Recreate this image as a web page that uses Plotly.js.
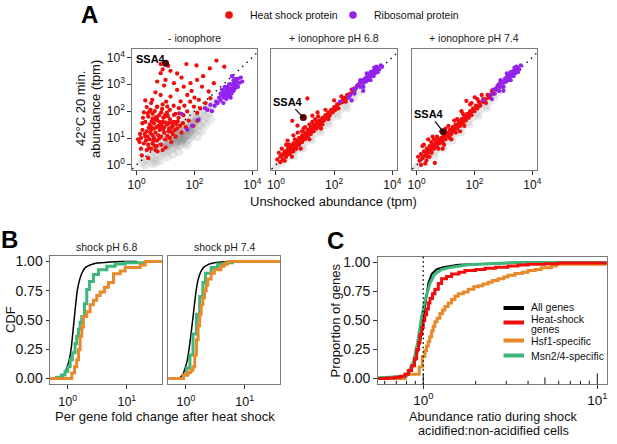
<!DOCTYPE html>
<html><head><meta charset="utf-8">
<script src="https://cdn.plot.ly/plotly-3.0.1.min.js"></script>
<style>html,body{margin:0;padding:0;background:#fff}#plot{width:617px;height:444px}</style>
</head><body><div id="plot"></div>
<script>
// ---------- DATA (panel A values are log10 tpm: [unshocked, shocked]) ----------
const a1GrayLight = [[0.2,0.1],[0.35,0.2],[0.5,0.3],[0.6,0.2],[0.7,0.4],[0.8,0.35],[0.9,0.5],[1.0,0.45],[0.95,0.65],[1.1,0.55],[1.2,0.6],[1.3,0.65],[1.4,0.7],[1.5,0.75],[1.6,0.8],[1.7,0.85],[1.8,0.95],[1.9,1.05],[2.0,1.2],[2.1,1.3],[2.2,1.45],[2.3,1.6],[2.4,1.8],[2.5,1.95],[2.6,2.1],[2.7,2.3],[2.2,1.9],[2.0,1.85],[1.9,1.75],[1.7,1.6],[1.5,1.45],[1.35,1.35],[1.2,1.3],[1.1,1.1],[0.9,0.9],[0.75,0.7],[0.6,0.55],[0.45,0.45],[2.35,2.1],[2.5,2.2],[1.3,1.5],[1.6,1.65],[2.05,2.0],[2.25,1.25],[2.4,1.5],[1.75,0.75],[1.45,0.5],[1.25,0.4],[0.3,0.0],[0.55,0.05],[0.8,0.15],[2.55,1.7],[1.0,1.0],[0.85,1.2],[1.15,0.75],[1.85,1.15],[2.15,1.55],[1.05,0.3],[0.65,0.1],[1.55,1.05],[1.95,1.55],[2.3,1.85],[0.95,0.8],[1.25,0.95],[1.65,1.3],[2.1,1.05],[1.4,0.95],[0.7,0.6],[1.8,1.25]];
const a1GrayCore = [[1.2,0.9],[1.3,1.0],[1.4,1.1],[1.5,1.0],[1.6,1.2],[1.7,1.3],[1.8,1.4],[1.35,0.8],[1.55,0.9],[1.65,1.05],[1.45,1.25],[1.9,1.5],[2.0,1.6],[1.25,1.15],[1.75,1.1],[1.1,0.8],[1.05,0.7],[1.85,1.25],[2.1,1.7],[1.95,1.35],[1.5,1.15],[1.6,0.95],[1.4,0.9]];
const a1Hsp = [[0.83,3.75],[1.09,3.68],[0.83,3.41],[1.17,3.5],[1.72,3.75],[2.07,3.7],[2.76,3.88],[2.53,3.59],[3.03,3.65],[0.71,3.10],[1.0,3.16],[1.29,3.04],[1.40,2.79],[1.63,2.91],[1.86,3.04],[2.09,3.16],[2.26,2.91],[2.49,2.73],[1.75,2.60],[1.52,2.36],[1.17,2.54],[0.83,2.60],[0.54,2.42],[2.15,2.42],[1.98,2.17],[2.38,2.30],[2.55,2.48],[1.46,2.11],[1.06,2.17],[0.71,2.17],[0.48,2.05],[1.75,1.99],[2.09,1.93],[1.29,1.86],[2.67,3.04],[0.25,1.95],[0.4,1.8],[0.55,1.9],[0.7,1.75],[0.85,1.95],[1.0,1.8],[1.15,1.7],[1.3,1.6],[1.45,1.75],[1.6,1.55],[1.8,1.65],[0.3,1.6],[0.45,1.5],[0.6,1.55],[0.75,1.45],[0.9,1.6],[1.05,1.5],[1.2,1.4],[1.4,1.35],[0.2,1.3],[0.35,1.25],[0.5,1.3],[0.65,1.2],[0.8,1.3],[0.95,1.2],[1.1,1.25],[1.25,1.15],[1.55,1.2],[0.15,1.0],[0.3,1.05],[0.45,0.95],[0.6,1.0],[0.7,0.9],[0.85,1.05],[1.0,0.95],[1.15,1.0],[0.25,0.8],[0.4,0.75],[0.55,0.8],[0.7,0.7],[0.85,0.75],[1.0,0.65],[0.5,0.6],[0.65,0.55],[0.35,0.55],[0.1,0.85],[0.05,0.95],[0.18,0.35],[0.4,0.25],[0.55,1.1],[0.75,1.1],[0.95,1.4],[1.1,1.55],[0.6,1.35],[0.8,1.6],[1.25,1.45],[1.35,1.9],[0.5,2.3],[0.35,2.15],[0.9,2.25],[1.15,2.05],[0.62,2.0],[0.78,1.85],[1.05,1.95],[1.5,1.45],[1.7,1.4],[1.35,1.05],[1.2,0.85],[0.9,0.55],[0.2,1.55],[0.3,2.4],[0.65,2.7],[0.95,2.95],[0.45,2.0],[0.72,1.65],[0.92,1.75],[1.12,1.35],[0.68,1.4],[0.38,1.05],[0.58,0.9],[1.9,2.75],[2.3,3.3],[1.55,3.25],[2.0,2.5],[0.9,3.55],[1.4,3.4],[2.2,2.1],[1.65,2.2],[2.45,2.05],[1.95,1.45],[2.1,1.65],[1.85,2.35],[0.28,1.15],[0.42,1.38],[0.52,1.62],[0.66,1.78],[0.82,1.42],[0.98,1.58],[1.08,1.82],[1.22,1.58],[1.38,1.52],[1.48,1.92],[0.32,0.9],[0.48,1.18],[0.62,0.72],[0.78,0.98],[0.92,1.32],[1.06,1.08],[1.18,1.25],[1.32,1.3],[0.22,1.75],[0.38,1.92],[0.55,1.72],[0.7,2.15],[0.88,2.08],[1.02,2.35],[1.28,2.2],[0.15,0.6],[0.42,0.62],[0.72,0.5],[0.6,1.68],[0.98,1.85],[1.42,1.62],[1.62,1.85],[0.12,1.15],[0.5,1.42],[0.85,1.5]];
const a1Ribo = [[2.75,2.35],[2.85,2.5],[2.9,2.4],[2.95,2.6],[3.0,2.5],[3.0,2.7],[3.05,2.6],[3.1,2.8],[3.1,2.65],[3.15,2.55],[3.15,2.9],[3.2,2.75],[3.2,2.6],[3.25,2.85],[3.25,2.7],[3.3,3.0],[3.3,2.8],[3.35,2.9],[3.35,2.75],[3.4,3.05],[3.4,2.85],[3.45,3.1],[3.45,2.95],[3.5,3.2],[3.55,3.05],[3.6,3.25],[2.95,2.8],[3.05,2.9],[3.1,2.45],[3.2,3.0],[3.0,2.3],[2.9,2.65],[3.25,2.5],[3.35,3.15],[3.5,2.9],[3.15,2.7],[3.22,2.82],[3.28,2.65],[3.18,2.62],[3.08,2.72],[3.38,2.95],[3.42,3.2],[2.8,2.3],[3.65,3.1],[3.3,3.3],[1.55,1.9],[1.75,1.31],[1.92,1.46],[2.14,1.68],[2.36,2.11],[2.44,2.05],[2.55,2.23],[2.6,2.0],[2.7,2.2]];

const a2Gray = [[0.0,-0.05],[0.2,0.05],[0.3,0.2],[0.45,0.3],[0.6,0.45],[0.75,0.55],[0.9,0.7],[1.05,0.85],[1.2,1.0],[1.35,1.15],[1.5,1.3],[1.65,1.45],[1.8,1.6],[1.95,1.75],[2.1,1.9],[2.25,2.05],[2.4,2.2],[2.55,2.35],[2.7,2.5],[2.85,2.7],[1.1,1.1],[1.4,1.4],[1.7,1.7],[2.0,2.0],[2.3,2.3],[0.8,0.8],[0.5,0.5],[1.25,0.9],[1.55,1.2],[1.85,1.5],[2.15,1.8],[0.95,0.6],[0.65,0.3],[2.45,2.1],[2.6,2.6],[3.0,2.9]];
const a2Hsp = [[0.15,0.1],[0.2,0.35],[0.25,0.2],[0.3,0.5],[0.35,0.3],[0.4,0.55],[0.45,0.4],[0.5,0.7],[0.5,0.45],[0.55,0.6],[0.6,0.8],[0.6,0.5],[0.65,0.7],[0.7,0.9],[0.7,0.6],[0.75,0.8],[0.8,1.0],[0.8,0.75],[0.85,0.9],[0.9,1.1],[0.9,0.85],[0.95,1.0],[1.0,1.2],[1.0,0.95],[1.05,1.1],[1.1,1.3],[1.1,1.05],[1.15,1.2],[1.2,1.4],[1.2,1.15],[1.25,1.3],[1.3,1.5],[1.3,1.25],[1.35,1.4],[1.4,1.6],[1.4,1.35],[1.45,1.5],[1.5,1.65],[1.5,1.45],[1.55,1.6],[1.6,1.75],[1.65,1.65],[1.7,1.85],[1.75,1.75],[1.8,1.95],[1.85,1.85],[1.9,2.05],[1.95,1.95],[2.0,2.15],[2.05,2.05],[2.1,2.25],[2.2,2.3],[2.3,2.45],[2.35,2.4],[2.45,2.6],[2.55,2.65],[2.6,2.8],[2.7,2.85],[2.8,2.95],[2.9,3.05],[3.0,3.15],[0.3,0.15],[0.45,0.75],[0.55,0.3],[0.65,0.95],[0.85,0.6],[1.0,1.4],[1.15,0.95],[1.35,1.7],[1.6,1.5],[0.56,1.64],[0.74,1.46],[1.08,2.47],[1.25,1.83],[1.43,1.95],[0.4,0.9],[0.2,0.6],[0.35,0.75],[0.75,1.2],[0.95,1.35],[1.25,1.6],[1.7,2.05],[2.0,2.4],[2.25,2.55],[0.1,0.45],[0.05,0.2],[0.6,1.1],[0.9,1.25],[1.15,1.5],[1.45,1.8],[1.55,1.35],[1.8,1.7],[2.15,2.1],[2.4,2.35],[0.25,0.4],[0.38,0.45],[0.42,0.65],[0.52,0.55],[0.58,0.72],[0.68,0.8],[0.72,0.72],[0.78,0.9],[0.82,0.85],[0.88,0.95],[0.92,1.05],[0.98,1.08],[1.02,1.05],[1.08,1.2],[1.12,1.15],[1.18,1.28],[1.22,1.3],[1.28,1.38],[1.32,1.42],[1.38,1.5],[1.42,1.45],[1.48,1.58],[1.52,1.55],[1.58,1.68],[1.62,1.65],[1.68,1.75],[1.72,1.78],[1.78,1.85],[1.82,1.8],[1.88,1.95],[1.92,2.0],[1.98,2.05],[2.08,2.15],[2.18,2.28],[2.28,2.35],[2.38,2.5],[2.5,2.55],[2.65,2.7],[0.48,0.58],[0.62,0.62],[0.32,0.38],[0.15,0.3]];
const a2Ribo = [[2.55,2.6],[2.65,2.8],[2.75,2.85],[2.8,2.95],[2.85,3.0],[2.9,2.9],[2.95,3.1],[3.0,3.05],[3.05,3.2],[3.1,3.1],[3.1,3.25],[3.15,3.3],[3.2,3.2],[3.2,3.35],[3.25,3.3],[3.3,3.45],[3.3,3.35],[3.35,3.5],[3.4,3.4],[3.4,3.55],[3.45,3.5],[3.5,3.6],[3.55,3.55],[3.6,3.7],[3.65,3.65],[3.0,2.9],[3.15,3.15],[3.25,3.45],[3.35,3.3],[3.45,3.65],[2.7,2.65],[3.0,2.75],[2.9,3.15],[3.5,3.45],[3.25,3.15],[3.12,3.4],[3.38,3.62],[2.2,2.35],[2.5,2.5],[2.6,2.4]];

const a3Gray = [[0.0,-0.05],[0.2,0.05],[0.3,0.2],[0.45,0.3],[0.6,0.45],[0.75,0.55],[0.9,0.7],[1.05,0.85],[1.2,1.0],[1.35,1.15],[1.5,1.3],[1.65,1.45],[1.8,1.6],[1.95,1.75],[2.1,1.9],[2.25,2.05],[2.4,2.2],[2.55,2.35],[2.7,2.5],[2.85,2.7],[1.1,1.1],[1.4,1.4],[1.7,1.7],[2.0,2.0],[2.3,2.3],[0.8,0.8],[0.5,0.5],[1.25,0.9],[1.55,1.2],[1.85,1.5],[2.15,1.8],[0.95,0.6],[0.65,0.3],[2.45,2.1],[2.6,2.6],[3.0,2.9]];
const a3Hsp = [[0.1,0.15],[0.15,0.4],[0.2,0.25],[0.25,0.5],[0.3,0.35],[0.35,0.6],[0.4,0.45],[0.45,0.7],[0.5,0.5],[0.55,0.75],[0.6,0.6],[0.65,0.85],[0.7,0.7],[0.75,0.95],[0.8,0.8],[0.85,1.0],[0.9,0.85],[0.95,1.1],[1.0,0.95],[1.05,1.2],[1.1,1.05],[1.15,1.3],[1.2,1.15],[1.25,1.4],[1.3,1.25],[1.35,1.5],[1.4,1.35],[1.45,1.6],[1.5,1.45],[1.55,1.7],[1.6,1.55],[1.65,1.8],[1.7,1.65],[1.75,1.9],[1.8,1.75],[1.85,2.0],[1.9,1.85],[1.95,2.1],[2.0,2.0],[2.05,2.2],[2.1,2.1],[2.15,2.35],[2.2,2.2],[2.3,2.45],[2.35,2.35],[2.45,2.6],[2.5,2.5],[2.6,2.75],[2.7,2.8],[2.8,2.9],[2.9,3.05],[0.63,0.07],[0.34,0.16],[0.4,0.95],[0.55,1.05],[0.75,0.6],[0.95,0.75],[1.0,1.35],[1.2,0.95],[1.3,1.65],[1.5,1.25],[1.72,2.38],[2.01,2.51],[1.55,2.0],[1.85,2.25],[0.2,0.7],[0.3,0.05],[0.45,0.3],[0.6,0.95],[0.85,1.25],[1.1,1.45],[1.4,1.7],[1.65,1.45],[1.9,2.3],[2.25,2.6],[2.4,2.3],[0.15,0.0],[0.5,0.85],[0.7,1.05],[0.9,0.6],[1.15,1.0],[1.35,1.2],[1.6,1.9],[2.1,2.45],[0.05,0.3],[0.25,0.75],[0.22,0.3],[0.32,0.45],[0.42,0.55],[0.48,0.62],[0.58,0.7],[0.62,0.75],[0.68,0.82],[0.72,0.85],[0.78,0.9],[0.82,0.92],[0.88,0.98],[0.92,1.0],[0.98,1.08],[1.02,1.1],[1.08,1.15],[1.12,1.2],[1.18,1.25],[1.22,1.3],[1.28,1.35],[1.32,1.4],[1.38,1.45],[1.42,1.5],[1.48,1.55],[1.52,1.6],[1.58,1.65],[1.62,1.7],[1.68,1.75],[1.72,1.8],[1.78,1.85],[1.82,1.9],[1.88,1.95],[1.98,2.05],[2.08,2.15],[2.18,2.25],[2.28,2.35],[2.38,2.45],[2.55,2.6],[2.65,2.65],[0.52,0.45],[0.38,0.3]];
const a3Ribo = [[2.55,2.6],[2.65,2.8],[2.75,2.85],[2.8,2.95],[2.85,3.0],[2.9,2.9],[2.95,3.1],[3.0,3.05],[3.05,3.2],[3.1,3.1],[3.1,3.25],[3.15,3.3],[3.2,3.2],[3.2,3.35],[3.25,3.3],[3.3,3.45],[3.3,3.35],[3.35,3.5],[3.4,3.4],[3.4,3.55],[3.45,3.5],[3.5,3.6],[3.55,3.55],[3.6,3.7],[3.0,2.9],[3.15,3.15],[3.25,3.45],[3.35,3.3],[3.45,3.65],[2.7,2.65],[3.0,2.75],[2.9,3.15],[3.5,3.45],[3.25,3.15],[3.12,3.4],[3.38,3.62],[2.3,2.4],[2.6,2.45],[2.85,2.75]];

const ssa4 = [[1.0,3.78],[0.94,1.76],[0.92,1.23]];   // log10 [unshocked, shocked]
const identityLine = [0.5, 20000];

// Panel B (fold change, CDF)
const b1AllX = [0.6,0.69,0.79,0.9,0.96,1.05,1.14,1.22,1.30,1.38,1.46,1.6,1.73,2.0,2.39,3.0,3.77,5.5,8.2,15];
const b1AllY = [0,0,0.01,0.05,0.09,0.15,0.25,0.39,0.53,0.66,0.76,0.85,0.9,0.95,0.97,0.985,0.99,0.997,1.0,1.0];
const b1MsnX = [0.5,0.65,0.78,0.90,1.0,1.10,1.2,1.33,1.42,1.52,1.62,1.73,1.92,2.10,2.33,2.72,3.31,4.58,6.34,9.4,20.5];
const b1MsnY = [0,0.01,0.03,0.06,0.1,0.16,0.22,0.3,0.36,0.42,0.48,0.53,0.64,0.76,0.83,0.89,0.93,0.96,0.98,0.99,1.0];
const b1HsfX = [0.5,1.17,1.30,1.42,1.52,1.62,1.73,1.84,2.10,2.39,2.72,3.10,3.53,4.18,4.89,5.94,7.71,9.37,16.8,20.5,40];
const b1HsfY = [0,0.046,0.10,0.16,0.245,0.36,0.44,0.53,0.57,0.63,0.67,0.71,0.74,0.78,0.82,0.895,0.92,0.95,0.97,1.0,1.0];
const b2AllX = [0.6,0.72,0.8,0.9,0.97,1.05,1.13,1.22,1.31,1.4,1.5,1.62,1.78,2.0,2.3,2.8,3.5,5.5];
const b2AllY = [0,0,0.01,0.04,0.09,0.15,0.25,0.38,0.51,0.64,0.76,0.85,0.91,0.95,0.97,0.985,0.993,1.0];
const b2MsnX = [0.5,0.79,0.90,1.03,1.17,1.32,1.51,1.71,1.94,2.15,2.68,3.46,4.76,6.15];
const b2MsnY = [0,0,0.03,0.09,0.2,0.38,0.55,0.7,0.82,0.9,0.95,0.98,0.99,1.0];
const b2HsfX = [0.5,0.90,1.09,1.21,1.32,1.41,1.51,1.61,1.71,1.82,1.94,2.07,2.21,2.36,2.68,3.04,3.93,4.47,5.08,40];
const b2HsfY = [0,0.03,0.05,0.07,0.1,0.2,0.33,0.45,0.55,0.63,0.69,0.75,0.8,0.85,0.9,0.93,0.96,0.98,1.0,1.0];

// Panel C (abundance ratio, cumulative proportion)
const cAllX = [0.5,0.687,0.785,0.82,0.895,0.957,1.0,1.031,1.068,1.117,1.19,1.30,1.59,2.46,3.83,12];
const cAllY = [0,0.01,0.02,0.037,0.14,0.31,0.53,0.67,0.82,0.9,0.94,0.96,0.98,0.99,1.0,1.0];
const cHsX = [0.5,0.62,0.687,0.74,0.785,0.82,0.857,0.89,0.916,0.94,0.957,0.98,1.0,1.02,1.045,1.07,1.092,1.13,1.166,1.22,1.274,1.36,1.454,1.6,1.733,2.0,2.26,2.6,3.07,3.5,4.0,5.0,5.95,12];
const cHsY = [0,0.005,0.01,0.02,0.037,0.07,0.11,0.17,0.25,0.31,0.38,0.44,0.5,0.55,0.6,0.65,0.69,0.73,0.77,0.82,0.86,0.88,0.9,0.915,0.93,0.94,0.95,0.96,0.97,0.978,0.985,0.99,0.995,1.0];
const cHsfX = [0.5,0.785,0.948,0.987,1.022,1.045,1.068,1.09,1.117,1.14,1.166,1.2,1.246,1.29,1.331,1.39,1.454,1.52,1.586,1.7,1.81,1.95,2.07,2.2,2.36,2.5,2.69,2.9,3.07,3.36,3.7,4.0,4.4,4.77,5.45,5.82,12];
const cHsfY = [0,0.037,0.1,0.19,0.24,0.28,0.32,0.36,0.41,0.45,0.49,0.52,0.56,0.59,0.62,0.65,0.68,0.71,0.73,0.745,0.77,0.79,0.8,0.815,0.83,0.845,0.86,0.875,0.89,0.905,0.915,0.93,0.94,0.955,0.97,0.985,1.0];
const cMsnX = [0.5,0.8,0.877,0.928,0.978,1.022,1.092,1.166,1.274,1.454,1.81,2.47,3.36,12];
const cMsnY = [0,0.02,0.14,0.31,0.53,0.67,0.82,0.9,0.94,0.96,0.98,0.99,1.0,1.0];

const legendA = ['Heat shock protein','Ribosomal protein'];
const legendC = ['All genes','Heat-shock','genes','Hsf1-specific','Msn2/4-specific'];
const stripA = ['- ionophore','+ ionophore pH 6.8','+ ionophore pH 7.4'];
const stripB = ['shock pH 6.8','shock pH 7.4'];
const logTicksA_x = [1,100,10000], logTextA_x = ['10<sup>0</sup>','10<sup>2</sup>','10<sup>4</sup>'];
const logTicksA_y = [1,10,100,1000,10000], logTextA_y = ['10<sup>0</sup>','10<sup>1</sup>','10<sup>2</sup>','10<sup>3</sup>','10<sup>4</sup>'];
const decTicks = [1,10], decText = ['10<sup>0</sup>','10<sup>1</sup>'];
const cdfTicks = [0,0.25,0.5,0.75,1], cdfText = ['0.00','0.25','0.50','0.75','1.00'];
const logMinorC = [0.6,0.7,0.8,0.9,2,3,4,6,7,8,9], logMidC = [5], logMajorC = [1,10];

// ---------- STYLE ----------
const FONT = 'Liberation Sans, Arial, sans-serif';
const RED = '#F20D0D', PURPLE = '#9322EE', ORANGE = '#E8892B', GREEN = '#3DB77B';
const W = 617, H = 444;
const fx = p => p / W, fy = p => 1 - p / H;
const pw = v => Math.pow(10, v);
const xs = a => a.map(p => pw(p[0])), ys = a => a.map(p => pw(p[1]));

const traces = [];
const axA = ['', '2', '3'];
const grays = [a1GrayLight, a2Gray, a3Gray], hsps = [a1Hsp, a2Hsp, a3Hsp], ribos = [a1Ribo, a2Ribo, a3Ribo];
axA.forEach((s, i) => {
  const xa = 'x' + s, ya = 'y' + s;
  traces.push({type:'scatter', mode:'markers', x: xs(grays[i]), y: ys(grays[i]), xaxis: xa, yaxis: ya, showlegend:false,
    marker:{size: i === 0 ? 9 : 7, color:'#bdbdbd', opacity:0.35}, hoverinfo:'skip'});
  if (i === 0) traces.push({type:'scatter', mode:'markers', x: xs(a1GrayCore), y: ys(a1GrayCore), xaxis: xa, yaxis: ya, showlegend:false,
    marker:{size:9, color:'#8f8f8f', opacity:0.35}, hoverinfo:'skip'});
  traces.push({type:'scatter', mode:'lines', x: identityLine, y: identityLine, xaxis: xa, yaxis: ya, showlegend:false,
    line:{color:'#000', width:1.4, dash:'1.4px,4.6px'}, hoverinfo:'skip'});
  traces.push({type:'scatter', mode:'markers', x: xs(hsps[i]), y: ys(hsps[i]), xaxis: xa, yaxis: ya, showlegend:false,
    marker:{size:4.3, color:RED}});
  traces.push({type:'scatter', mode:'markers', x: xs(ribos[i]), y: ys(ribos[i]), xaxis: xa, yaxis: ya, showlegend:false,
    marker:{size:4.3, color:PURPLE}});
  traces.push({type:'scatter', mode:'markers', x: [pw(ssa4[i][0])], y: [pw(ssa4[i][1])], xaxis: xa, yaxis: ya, showlegend:false,
    marker:{size:7, color:'#5a0505'}});
});

// Panel B
const bSets = [[b1AllX,b1AllY,b1MsnX,b1MsnY,b1HsfX,b1HsfY,'x4','y4'],[b2AllX,b2AllY,b2MsnX,b2MsnY,b2HsfX,b2HsfY,'x5','y5']];
bSets.forEach(b => {
  traces.push({type:'scatter', mode:'lines', x:b[0], y:b[1], xaxis:b[6], yaxis:b[7], showlegend:false, line:{color:'#000', width:1.5, shape:'spline', smoothing:0.6}});
  traces.push({type:'scatter', mode:'lines', x:b[2], y:b[3], xaxis:b[6], yaxis:b[7], showlegend:false, line:{color:GREEN, width:3, shape:'hv'}});
  traces.push({type:'scatter', mode:'lines', x:b[4], y:b[5], xaxis:b[6], yaxis:b[7], showlegend:false, line:{color:ORANGE, width:3, shape:'hv'}});
});

// Panel C
traces.push({type:'scatter', mode:'lines', x:cHsfX, y:cHsfY, xaxis:'x6', yaxis:'y6', showlegend:false, line:{color:ORANGE, width:3, shape:'hv'}});
traces.push({type:'scatter', mode:'lines', x:cAllX, y:cAllY, xaxis:'x6', yaxis:'y6', showlegend:false, line:{color:'#000', width:2}});
traces.push({type:'scatter', mode:'lines', x:cMsnX, y:cMsnY, xaxis:'x6', yaxis:'y6', showlegend:false, line:{color:GREEN, width:3}});
traces.push({type:'scatter', mode:'lines', x:cHsX, y:cHsY, xaxis:'x6', yaxis:'y6', showlegend:false, line:{color:RED, width:3, shape:'hv'}});

// ---------- AXES ----------
const frame = {showline:true, mirror:true, linecolor:'#7a7a7a', linewidth:1, showgrid:false, zeroline:false,
  ticks:'outside', ticklen:3.5, tickwidth:1, tickcolor:'#333', tickfont:{family:FONT, size:12, color:'#111'}};
const layout = {
  width:W, height:H, margin:{l:0,r:0,t:0,b:0}, paper_bgcolor:'#fff', plot_bgcolor:'#fff',
  font:{family:FONT, color:'#111'}, showlegend:false,
  annotations:[], shapes:[]
};
const aXd = [[131.7,256.7],[271,396.7],[411.7,536.7]];
aXd.forEach((d, i) => {
  const s = i === 0 ? '' : String(i+1);
  layout['xaxis'+s] = Object.assign({}, frame, {type:'log', domain:[fx(d[0]), fx(d[1])], range:[-0.17,4.15], anchor:'y'+s,
    tickmode:'array', tickvals:logTicksA_x, ticktext:logTextA_x});
  layout['yaxis'+s] = Object.assign({}, frame, {type:'log', domain:[fy(170), fy(49.3)], range:[-0.19,4.3], anchor:'x'+s,
    tickmode:'array', tickvals:logTicksA_y, ticktext:logTextA_y, showticklabels: i === 0, ticks: i === 0 ? 'outside' : ''});
});
const bXd = [[50,162.3],[168.3,280]];
bXd.forEach((d, i) => {
  const s = String(i+4);
  layout['xaxis'+s] = Object.assign({}, frame, {type:'log', domain:[fx(d[0]), fx(d[1])], range:[-0.3,1.6], anchor:'y'+s,
    tickmode:'array', tickvals:decTicks, ticktext:decText, ticklabelstandoff:2, tickfont:{family:FONT, size:12.5, color:'#111'}});
  layout['yaxis'+s] = Object.assign({}, frame, {domain:[fy(384.3), fy(255.7)], range:[-0.05,1.05], anchor:'x'+s,
    tickmode:'array', tickvals:cdfTicks, ticktext:cdfText, showticklabels: i === 0, ticks: i === 0 ? 'outside' : '',
    tickfont:{family:FONT, size:14, color:'#111'}});
});
layout.xaxis6 = Object.assign({}, frame, {type:'log', domain:[fx(377.7), fx(606.7)], range:[-0.262,1.054], anchor:'y6',
  tickmode:'array', tickvals:decTicks, ticktext:decText, tickfont:{family:FONT, size:13.5, color:'#111'}});
layout.yaxis6 = Object.assign({}, frame, {domain:[fy(384.3), fy(256.7)], range:[-0.05,1.05], anchor:'x6',
  tickmode:'array', tickvals:cdfTicks, ticktext:cdfText, tickfont:{family:FONT, size:14, color:'#111'}});

// log ticks drawn inside panel C bottom (shape x in data values)
const cBottom = 384.3;
[[logMinorC,3.5],[logMidC,7],[logMajorC,11]].forEach(g => g[0].forEach(v => layout.shapes.push({
  type:'line', xref:'x6', yref:'paper', x0:v, x1:v, y0:fy(cBottom), y1:fy(cBottom - g[1]),
  line:{color:'#111', width:1}})));
layout.shapes.push({type:'line', xref:'x6', yref:'y6 domain', x0:1, x1:1, y0:0, y1:1, line:{color:'#111', width:1.5, dash:'1.5px,3px'}});

// custom legend for A (keys) and C (line keys)
const legAx = [229, 353], legAcol = [RED, PURPLE], legAtextX = [248, 372];
legAx.forEach((x, i) => layout.shapes.push({type:'circle', xref:'paper', yref:'paper', x0:fx(x-3.8), x1:fx(x+3.8), y0:fy(15+3.8), y1:fy(15-3.8),
  fillcolor:legAcol[i], line:{width:0}}));
const legCy = [308, 322.5, 340.5, 355.5], legCcol = ['#000', RED, ORANGE, GREEN];
legCy.forEach((y, i) => {
  layout.shapes.push({type:'line', xref:'paper', yref:'paper', x0:fx(503.5), x1:fx(524), y0:fy(y), y1:fy(y), line:{color:legCcol[i], width:4}});
});
const ann = (text, x, y, o) => layout.annotations.push(Object.assign({text, x:fx(x), y:fy(y), xref:'paper', yref:'paper', showarrow:false,
  xanchor:'center', yanchor:'middle', font:{family:FONT, size:13, color:'#111'}}, o || {}));
legendA.forEach((t, i) => ann(t, legAtextX[i], 15, {xanchor:'left', font:{family:FONT, size:10.5, color:'#111'}}));
const legTextY = [307.3, 319, 329, 340.5, 356];
legendC.forEach((t, i) => ann(t, 530, legTextY[i], {xanchor:'left', borderpad:0, font:{family:FONT, size:10.5, color:'#111'}}));

// panel letters
ann('<b>A</b>', 90, 15, {font:{family:FONT, size:24, color:'#000'}});
ann('<b>B</b>', 9, 239, {font:{family:FONT, size:24, color:'#000'}});
ann('<b>C</b>', 335, 240, {font:{family:FONT, size:24, color:'#000'}});
// strips
aXd.forEach((d, i) => ann(stripA[i], (d[0]+d[1])/2, 38, {font:{family:FONT, size:10.5, color:'#222'}}));
bXd.forEach((d, i) => ann(stripB[i], (d[0]+d[1])/2, 246.5, {font:{family:FONT, size:10.5, color:'#222'}}));
// axis titles
ann('42°C 20 min.', 80, 109, {textangle:-90});
ann('abundance (tpm)', 95, 109, {textangle:-90});
ann('Unshocked abundance (tpm)', 333, 201.5);
ann('CDF', 10, 320, {textangle:-90});
ann('Per gene fold change after heat shock', 165, 416.5);
ann('Proportion of genes', 335, 320.5, {textangle:-90});
ann('Abundance ratio during shock', 493.5, 416.8, {font:{family:FONT, size:12.7, color:'#111'}});
ann('acidified:non-acidified cells', 493.5, 430.5, {font:{family:FONT, size:12.7, color:'#111'}});
// SSA4 labels
layout.annotations.push({text:'<b>SSA4</b>', xref:'x', yref:'y', x:ssa4[0][0], y:ssa4[0][1], ax:-15, ay:-4, showarrow:true, arrowwidth:0.01, arrowcolor:'rgba(0,0,0,0)', arrowhead:0,
  font:{family:FONT, size:11, color:'#000'}});
layout.annotations.push({text:'<b>SSA4</b>', xref:'x2', yref:'y2', x:ssa4[1][0], y:ssa4[1][1], ax:-15, ay:-16, showarrow:true, arrowhead:0, arrowwidth:1.2, arrowcolor:'#000',
  font:{family:FONT, size:11, color:'#000'}});
layout.annotations.push({text:'<b>SSA4</b>', xref:'x3', yref:'y3', x:ssa4[2][0], y:ssa4[2][1], ax:-14, ay:-18, showarrow:true, arrowhead:0, arrowwidth:1.2, arrowcolor:'#000',
  font:{family:FONT, size:11, color:'#000'}});

Plotly.newPlot('plot', traces, layout, {staticPlot:true, displayModeBar:false});
</script></body></html>
